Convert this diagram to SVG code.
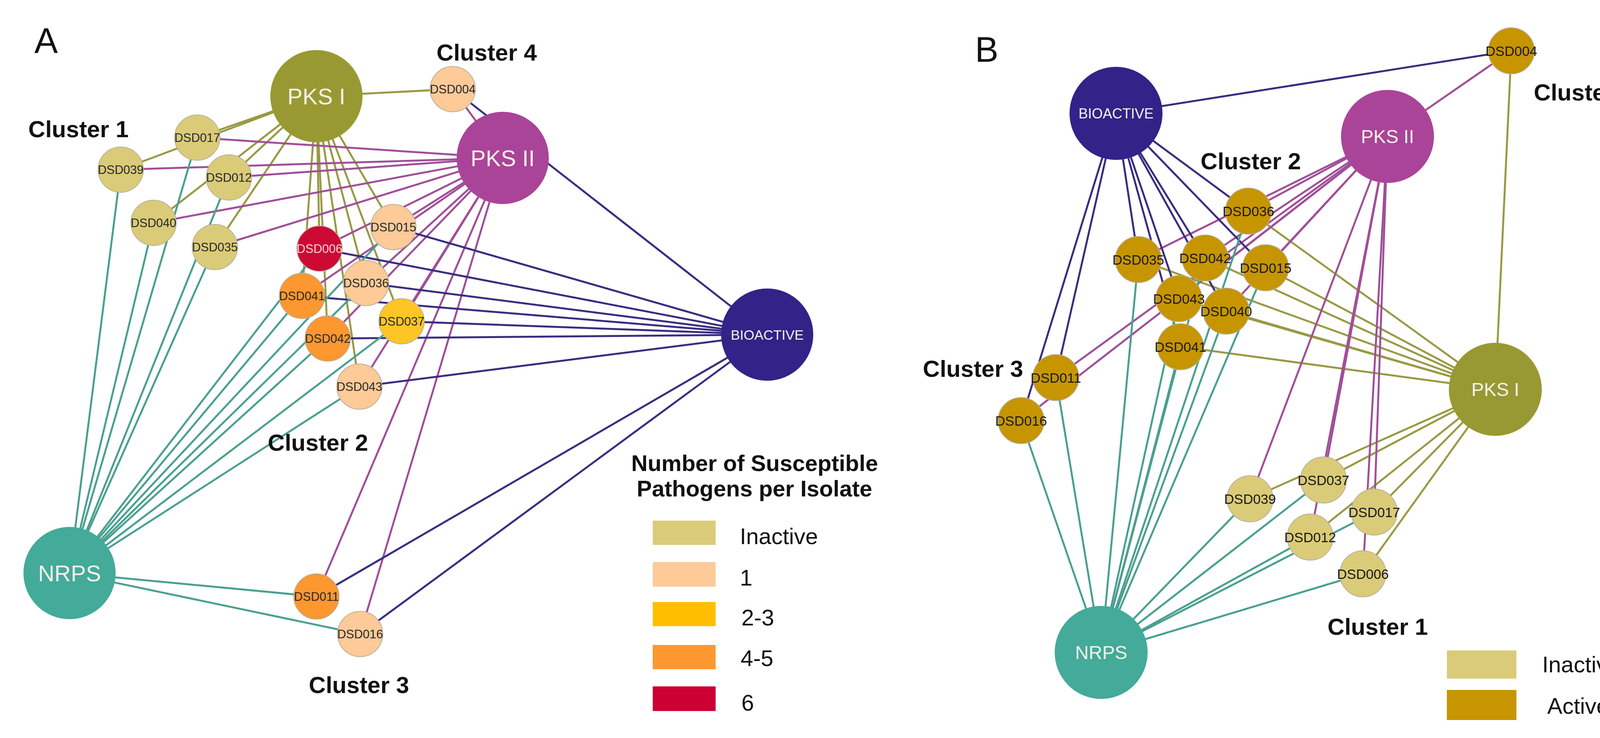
<svg xmlns="http://www.w3.org/2000/svg" width="4256" height="1888" viewBox="0 0 4256 1888">
<style>
text{font-family:"Liberation Sans",Arial,sans-serif}
.e line{stroke-width:5;fill:none}
.p1 line{stroke:#999944}
.p2 line{stroke:#a04f98}
.bi line{stroke:#3a2d80}
.nr line{stroke:#4aa091}
.n{stroke:#b8b09a;stroke-width:2}
.in{fill:#dacb78}.o1{fill:#fdca98}.o2{fill:#fdc526}.o4{fill:#fd972f}.o6{fill:#cc0a33}.ac{fill:#c69500}
.t{font-size:31px;fill:#2a2a2a;text-anchor:middle;dominant-baseline:central}
.tb{font-size:35px;fill:#1a1a1a;text-anchor:middle;dominant-baseline:central}
.h{fill:#f2f2e8;text-anchor:middle;dominant-baseline:central}
.c{font-size:60px;font-weight:bold;fill:#111;text-anchor:middle}
.lg{font-size:58px;fill:#111}
</style>
<g id="connectors" class="e">
<g class="p1">
<line x1="810" y1="246" x2="1159" y2="228"/><line x1="810" y1="246" x2="505" y2="352"/><line x1="810" y1="246" x2="309" y2="434"/><line x1="810" y1="246" x2="586" y2="454"/><line x1="810" y1="246" x2="393" y2="570"/><line x1="810" y1="246" x2="550" y2="632"/><line x1="810" y1="246" x2="818" y2="636"/><line x1="810" y1="246" x2="1007" y2="581"/><line x1="810" y1="246" x2="937" y2="724"/><line x1="810" y1="246" x2="773" y2="757"/><line x1="810" y1="246" x2="1028" y2="822"/><line x1="810" y1="246" x2="839" y2="866"/><line x1="810" y1="246" x2="920" y2="989"/>
<line x1="3828" y1="996" x2="3869" y2="130"/><line x1="3828" y1="996" x2="3196" y2="540"/><line x1="3828" y1="996" x2="2914" y2="664"/><line x1="3828" y1="996" x2="3085" y2="660"/><line x1="3828" y1="996" x2="3240" y2="685"/><line x1="3828" y1="996" x2="3018" y2="764"/><line x1="3828" y1="996" x2="3139" y2="796"/><line x1="3828" y1="996" x2="3022" y2="887"/><line x1="3828" y1="996" x2="3200" y2="1276"/><line x1="3828" y1="996" x2="3388" y2="1228"/><line x1="3828" y1="996" x2="3518" y2="1310"/><line x1="3828" y1="996" x2="3354" y2="1374"/><line x1="3828" y1="996" x2="3489" y2="1468"/>
</g>
<g class="p2">
<line x1="1287" y1="404" x2="1159" y2="228"/><line x1="1287" y1="404" x2="505" y2="352"/><line x1="1287" y1="404" x2="309" y2="434"/><line x1="1287" y1="404" x2="586" y2="454"/><line x1="1287" y1="404" x2="393" y2="570"/><line x1="1287" y1="404" x2="550" y2="632"/><line x1="1287" y1="404" x2="818" y2="636"/><line x1="1287" y1="404" x2="1007" y2="581"/><line x1="1287" y1="404" x2="937" y2="724"/><line x1="1287" y1="404" x2="773" y2="757"/><line x1="1287" y1="404" x2="1028" y2="822"/><line x1="1287" y1="404" x2="839" y2="866"/><line x1="1287" y1="404" x2="920" y2="989"/><line x1="1287" y1="404" x2="810" y2="1526"/><line x1="1287" y1="404" x2="922" y2="1622"/>
<line x1="3552" y1="349" x2="3869" y2="130"/><line x1="3552" y1="349" x2="3196" y2="540"/><line x1="3552" y1="349" x2="2914" y2="664"/><line x1="3552" y1="349" x2="3085" y2="660"/><line x1="3552" y1="349" x2="3240" y2="685"/><line x1="3552" y1="349" x2="3018" y2="764"/><line x1="3552" y1="349" x2="3139" y2="796"/><line x1="3552" y1="349" x2="2703" y2="966"/><line x1="3552" y1="349" x2="2614" y2="1076"/><line x1="3552" y1="349" x2="3200" y2="1276"/><line x1="3552" y1="349" x2="3388" y2="1228"/><line x1="3552" y1="349" x2="3518" y2="1310"/><line x1="3552" y1="349" x2="3354" y2="1374"/><line x1="3552" y1="349" x2="3489" y2="1468"/>
</g>
<g class="bi">
<line x1="1964" y1="856" x2="1159" y2="228"/><line x1="1964" y1="856" x2="818" y2="636"/><line x1="1964" y1="856" x2="1007" y2="581"/><line x1="1964" y1="856" x2="937" y2="724"/><line x1="1964" y1="856" x2="773" y2="757"/><line x1="1964" y1="856" x2="1028" y2="822"/><line x1="1964" y1="856" x2="839" y2="866"/><line x1="1964" y1="856" x2="920" y2="989"/><line x1="1964" y1="856" x2="810" y2="1526"/><line x1="1964" y1="856" x2="922" y2="1622"/>
<line x1="2857" y1="290" x2="3869" y2="130"/><line x1="2857" y1="290" x2="3196" y2="540"/><line x1="2857" y1="290" x2="2914" y2="664"/><line x1="2857" y1="290" x2="3085" y2="660"/><line x1="2857" y1="290" x2="3240" y2="685"/><line x1="2857" y1="290" x2="3018" y2="764"/><line x1="2857" y1="290" x2="3139" y2="796"/><line x1="2857" y1="290" x2="3022" y2="887"/><line x1="2857" y1="290" x2="2703" y2="966"/><line x1="2857" y1="290" x2="2614" y2="1076"/>
</g>
<g class="nr">
<line x1="178" y1="1466" x2="505" y2="352"/><line x1="178" y1="1466" x2="309" y2="434"/><line x1="178" y1="1466" x2="586" y2="454"/><line x1="178" y1="1466" x2="393" y2="570"/><line x1="178" y1="1466" x2="550" y2="632"/><line x1="178" y1="1466" x2="818" y2="636"/><line x1="178" y1="1466" x2="1007" y2="581"/><line x1="178" y1="1466" x2="937" y2="724"/><line x1="178" y1="1466" x2="773" y2="757"/><line x1="178" y1="1466" x2="1028" y2="822"/><line x1="178" y1="1466" x2="839" y2="866"/><line x1="178" y1="1466" x2="920" y2="989"/><line x1="178" y1="1466" x2="810" y2="1526"/><line x1="178" y1="1466" x2="922" y2="1622"/>
<line x1="2819" y1="1669" x2="3196" y2="540"/><line x1="2819" y1="1669" x2="2914" y2="664"/><line x1="2819" y1="1669" x2="3085" y2="660"/><line x1="2819" y1="1669" x2="3240" y2="685"/><line x1="2819" y1="1669" x2="3018" y2="764"/><line x1="2819" y1="1669" x2="3139" y2="796"/><line x1="2819" y1="1669" x2="3022" y2="887"/><line x1="2819" y1="1669" x2="2703" y2="966"/><line x1="2819" y1="1669" x2="2614" y2="1076"/><line x1="2819" y1="1669" x2="3200" y2="1276"/><line x1="2819" y1="1669" x2="3388" y2="1228"/><line x1="2819" y1="1669" x2="3518" y2="1310"/><line x1="2819" y1="1669" x2="3354" y2="1374"/><line x1="2819" y1="1669" x2="3489" y2="1468"/>
</g>
</g>
<g id="panelA">
<g id="A-PKSI"><circle cx="810" cy="246" r="118" fill="#999933"/><text class="h" x="810" y="246" font-size="58">PKS I</text></g>
<g id="A-PKSII"><circle cx="1287" cy="404" r="118" fill="#aa4499"/><text class="h" x="1287" y="404" font-size="58">PKS II</text></g>
<g id="A-BIOACTIVE"><circle cx="1964" cy="856" r="118" fill="#332288"/><text class="h" x="1964" y="856" font-size="35">BIOACTIVE</text></g>
<g id="A-NRPS"><circle cx="178" cy="1466" r="118" fill="#44aa99"/><text class="h" x="178" y="1466" font-size="58">NRPS</text></g>
<g id="A-DSD004"><circle class="n o1" cx="1159" cy="228" r="58"/><text class="t" x="1159" y="228">DSD004</text></g>
<g id="A-DSD017"><circle class="n in" cx="505" cy="352" r="58"/><text class="t" x="505" y="352">DSD017</text></g>
<g id="A-DSD039"><circle class="n in" cx="309" cy="434" r="58"/><text class="t" x="309" y="434">DSD039</text></g>
<g id="A-DSD012"><circle class="n in" cx="586" cy="454" r="58"/><text class="t" x="586" y="454">DSD012</text></g>
<g id="A-DSD040"><circle class="n in" cx="393" cy="570" r="58"/><text class="t" x="393" y="570">DSD040</text></g>
<g id="A-DSD035"><circle class="n in" cx="550" cy="632" r="58"/><text class="t" x="550" y="632">DSD035</text></g>
<g id="A-DSD015"><circle class="n o1" cx="1007" cy="581" r="58"/><text class="t" x="1007" y="581">DSD015</text></g>
<g id="A-DSD006"><circle class="n o6" cx="818" cy="636" r="58"/><text class="t" x="818" y="636" style="fill:#f4d0d8">DSD006</text></g>
<g id="A-DSD036"><circle class="n o1" cx="937" cy="724" r="58"/><text class="t" x="937" y="724">DSD036</text></g>
<g id="A-DSD041"><circle class="n o4" cx="773" cy="757" r="58"/><text class="t" x="773" y="757">DSD041</text></g>
<g id="A-DSD037"><circle class="n o2" cx="1028" cy="822" r="58"/><text class="t" x="1028" y="822">DSD037</text></g>
<g id="A-DSD042"><circle class="n o4" cx="839" cy="866" r="58"/><text class="t" x="839" y="866">DSD042</text></g>
<g id="A-DSD043"><circle class="n o1" cx="920" cy="989" r="58"/><text class="t" x="920" y="989">DSD043</text></g>
<g id="A-DSD011"><circle class="n o4" cx="810" cy="1526" r="58"/><text class="t" x="810" y="1526">DSD011</text></g>
<g id="A-DSD016"><circle class="n o1" cx="922" cy="1622" r="58"/><text class="t" x="922" y="1622">DSD016</text></g>
<text x="88" y="135" font-size="90" fill="#111">A</text>
<text class="c" x="1246" y="155">Cluster 4</text>
<text class="c" x="201" y="351">Cluster 1</text>
<text class="c" x="814" y="1153">Cluster 2</text>
<text class="c" x="919" y="1773">Cluster 3</text>
<text x="1616" y="1205" font-size="58" font-weight="bold" fill="#111">Number of Susceptible</text>
<text x="1630" y="1270" font-size="58" font-weight="bold" fill="#111">Pathogens per Isolate</text>
<rect x="1671" y="1332" width="161" height="62" fill="#dacb78"/>
<rect x="1671" y="1438" width="161" height="63" fill="#fdca98"/>
<rect x="1671" y="1540" width="161" height="62" fill="#ffbf00"/>
<rect x="1671" y="1650" width="161" height="62" fill="#fd972f"/>
<rect x="1671" y="1756" width="161" height="63" fill="#cc0033"/>
<text class="lg" x="1894" y="1392">Inactive</text>
<text class="lg" x="1894" y="1498">1</text>
<text class="lg" x="1898" y="1600">2-3</text>
<text class="lg" x="1896" y="1704">4-5</text>
<text class="lg" x="1898" y="1818">6</text>
</g>
<g id="panelB">
<g id="B-BIOACTIVE"><circle cx="2857" cy="290" r="119" fill="#332288"/><text class="h" x="2857" y="290" font-size="36">BIOACTIVE</text></g>
<g id="B-PKSII"><circle cx="3552" cy="349" r="119" fill="#aa4499"/><text class="h" x="3552" y="349" font-size="48">PKS II</text></g>
<g id="B-PKSI"><circle cx="3828" cy="996" r="119" fill="#999933"/><text class="h" x="3828" y="996" font-size="48">PKS I</text></g>
<g id="B-NRPS"><circle cx="2819" cy="1669" r="119" fill="#44aa99"/><text class="h" x="2819" y="1669" font-size="48">NRPS</text></g>
<g id="B-DSD004"><circle class="n ac" cx="3869" cy="130" r="59"/><text class="tb" x="3869" y="130">DSD004</text></g>
<g id="B-DSD036"><circle class="n ac" cx="3196" cy="540" r="59"/><text class="tb" x="3196" y="540">DSD036</text></g>
<g id="B-DSD035"><circle class="n ac" cx="2914" cy="664" r="59"/><text class="tb" x="2914" y="664">DSD035</text></g>
<g id="B-DSD042"><circle class="n ac" cx="3085" cy="660" r="59"/><text class="tb" x="3085" y="660">DSD042</text></g>
<g id="B-DSD015"><circle class="n ac" cx="3240" cy="685" r="59"/><text class="tb" x="3240" y="685">DSD015</text></g>
<g id="B-DSD043"><circle class="n ac" cx="3018" cy="764" r="59"/><text class="tb" x="3018" y="764">DSD043</text></g>
<g id="B-DSD040"><circle class="n ac" cx="3139" cy="796" r="59"/><text class="tb" x="3139" y="796">DSD040</text></g>
<g id="B-DSD041"><circle class="n ac" cx="3022" cy="887" r="59"/><text class="tb" x="3022" y="887">DSD041</text></g>
<g id="B-DSD011"><circle class="n ac" cx="2703" cy="966" r="59"/><text class="tb" x="2703" y="966">DSD011</text></g>
<g id="B-DSD016"><circle class="n ac" cx="2614" cy="1076" r="59"/><text class="tb" x="2614" y="1076">DSD016</text></g>
<g id="B-DSD039"><circle class="n in" cx="3200" cy="1276" r="59"/><text class="tb" x="3200" y="1276">DSD039</text></g>
<g id="B-DSD037"><circle class="n in" cx="3388" cy="1228" r="59"/><text class="tb" x="3388" y="1228">DSD037</text></g>
<g id="B-DSD017"><circle class="n in" cx="3518" cy="1310" r="59"/><text class="tb" x="3518" y="1310">DSD017</text></g>
<g id="B-DSD012"><circle class="n in" cx="3354" cy="1374" r="59"/><text class="tb" x="3354" y="1374">DSD012</text></g>
<g id="B-DSD006"><circle class="n in" cx="3489" cy="1468" r="59"/><text class="tb" x="3489" y="1468">DSD006</text></g>
<text x="2496" y="158" font-size="90" fill="#111">B</text>
<text class="c" x="4055" y="257" font-size="58">Cluster 4</text>
<text class="c" x="3202" y="433">Cluster 2</text>
<text class="c" x="2491" y="964">Cluster 3</text>
<text class="c" x="3527" y="1624">Cluster 1</text>
<rect x="3704" y="1664" width="178" height="72" fill="#dacb78"/>
<rect x="3704" y="1765" width="178" height="77" fill="#c69500"/>
<text class="lg" x="3948" y="1720" font-size="56">Inactive</text>
<text class="lg" x="3961" y="1826" font-size="56">Active</text>
</g>
</svg>
